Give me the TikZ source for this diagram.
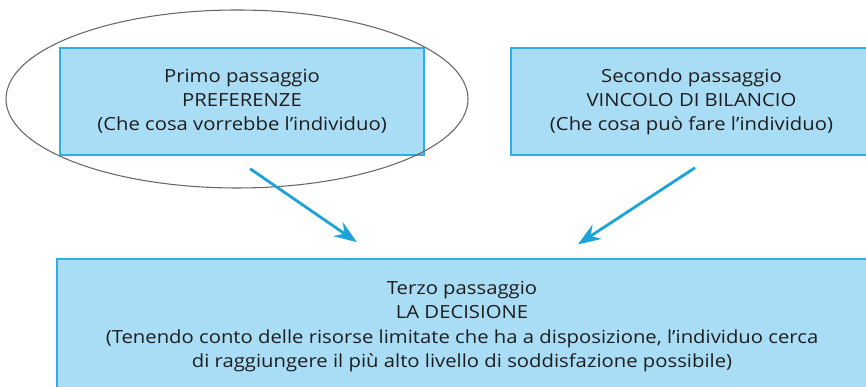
\documentclass[tikz,border=0pt]{standalone}
\usepackage{fontspec}
\setmainfont{Open Sans}[FakeStretch=1.12]
\usetikzlibrary{shapes.geometric,arrows.meta}
\definecolor{azzurro}{HTML}{A9DDF6}
\definecolor{bordo}{HTML}{2FAEE2}
\definecolor{freccia}{HTML}{1CA3DA}
\definecolor{testo}{HTML}{1E1E1E}

\begin{document}
\begin{tikzpicture}[
      passaggio/.style ={rectangle, draw=bordo, line width=1.1pt, fill=azzurro,
                         text=testo, align=center, font=\fontsize{10.3}{13.7}\selectfont,
                         inner sep=0pt},
      arrowline/.style ={draw=freccia, line width=1.6pt,
                         -{Stealth[length=4.6mm, width=3.4mm, inset=1.6mm]}}]
   \useasboundingbox (0,0) rectangle (17.32,7.74);
   \clip (0,0) rectangle (17.32,7.74);

   \node[passaggio, minimum width=7.28cm, minimum height=2.14cm] (P1) at (4.84,5.71)
      {Primo passaggio\\PREFERENZE\\(Che cosa vorrebbe l’individuo)};
   \node[passaggio, minimum width=7.22cm, minimum height=2.14cm] (P2) at (13.83,5.71)
      {Secondo passaggio\\VINCOLO DI BILANCIO\\(Che cosa può fare l’individuo)};
   \node[passaggio, minimum width=16.2cm, minimum height=2.7cm] (P3) at (9.24,1.21)
      {Terzo passaggio\\LA DECISIONE\\(Tenendo conto delle risorse limitate che ha a disposizione, l’individuo cerca\\di raggiungere il più alto livello di soddisfazione possibile)};

   \node[ellipse, draw=black!60, line width=0.6pt, minimum width=9.24cm,
         minimum height=3.56cm, inner sep=0pt] (E) at (4.74,5.76) {};

   \draw[arrowline, shorten <=0.45cm, shorten >=0.56cm]
      ([xshift=-0.21cm]P1.south) to ([xshift=-1.64cm]P3.north);
   \draw[arrowline, shorten <=0.43cm, shorten >=0.5cm]
      ([xshift=0.43cm]P2.south) to ([xshift=1.9cm]P3.north);
 \end{tikzpicture}
\end{document}
